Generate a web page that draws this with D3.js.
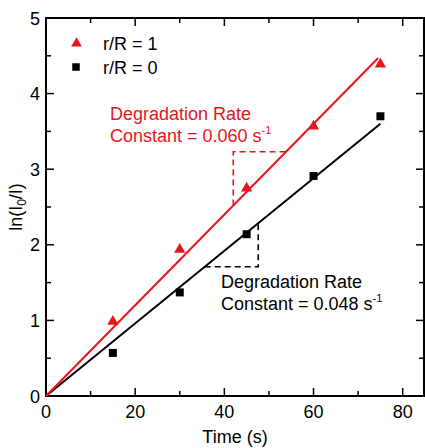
<!DOCTYPE html>
<html><head><meta charset="utf-8">
<script src="https://cdn.jsdelivr.net/npm/d3@7"></script>
<style>
body{margin:0;background:#fff;}
text{font-family:"Liberation Sans",Arial,sans-serif;}
</style></head>
<body><svg id="c" width="425" height="448"></svg>
<script>
const times = [15, 30, 45, 60, 75];
const series1Name = "r/R = 1";
const series1 = [1.00, 1.95, 2.76, 3.58, 4.40];
const series0Name = "r/R = 0";
const series0 = [0.57, 1.37, 2.14, 2.91, 3.70];
const fit1 = [[0, 0], [74.5, 4.47]];
const fit0 = [[0, 0], [75, 3.6]];
const xTicks = [0, 20, 40, 60, 80];
const xMinor = [10, 30, 50, 70];
const yTicks = [0, 1, 2, 3, 4, 5];
const yMinor = [0.5, 1.5, 2.5, 3.5, 4.5];
const tri1 = [[42, 2.52], [42, 3.23], [53.8, 3.23]];
const tri0 = [[35.6, 1.71], [47.6, 1.71], [47.6, 2.285]];
const red = "#e8141c", black = "#000";

const svg = d3.select("#c");
const x = d3.scaleLinear().domain([0, 85]).range([46, 425]);
const y = d3.scaleLinear().domain([0, 5]).range([396, 18]);
const L = 46, R = 424, T = 18, B = 396;

// frame
svg.append("rect").attr("x", L).attr("y", T).attr("width", R - L).attr("height", B - T)
  .attr("fill", "none").attr("stroke", "#000").attr("stroke-width", 2);

function ticks(vals, len) {
  svg.selectAll(null).data(vals).enter().append("line")
    .attr("x1", d => x(d)).attr("x2", d => x(d)).attr("y1", B).attr("y2", B - len)
    .attr("stroke", "#000").attr("stroke-width", 1.5);
  svg.selectAll(null).data(vals).enter().append("line")
    .attr("x1", d => x(d)).attr("x2", d => x(d)).attr("y1", T).attr("y2", T + len)
    .attr("stroke", "#000").attr("stroke-width", 1.5);
}
ticks(xTicks.filter(d => d > 0), 8);
ticks(xMinor, 5);
function yt(vals, len) {
  svg.selectAll(null).data(vals).enter().append("line")
    .attr("y1", d => y(d)).attr("y2", d => y(d)).attr("x1", L).attr("x2", L + len)
    .attr("stroke", "#000").attr("stroke-width", 1.5);
  svg.selectAll(null).data(vals).enter().append("line")
    .attr("y1", d => y(d)).attr("y2", d => y(d)).attr("x1", R).attr("x2", R - len)
    .attr("stroke", "#000").attr("stroke-width", 1.5);
}
yt(yTicks.filter(d => d > 0 && d < 5), 8);
yt(yMinor, 5);

// tick labels
svg.selectAll(null).data(xTicks).enter().append("text")
  .attr("x", d => x(d)).attr("y", 418).attr("text-anchor", "middle")
  .attr("font-size", 18).text(d => d);
svg.selectAll(null).data(yTicks).enter().append("text")
  .attr("x", 40).attr("y", d => y(d) + 6.5).attr("text-anchor", "end")
  .attr("font-size", 18).text(d => d);

// axis titles
svg.append("text").attr("x", 235).attr("y", 443).attr("text-anchor", "middle")
  .attr("font-size", 18).text("Time (s)");
const yl = svg.append("text").attr("transform", "translate(22,207) rotate(-90)")
  .attr("text-anchor", "middle").attr("font-size", 18);
yl.append("tspan").text("ln(I");
yl.append("tspan").attr("font-size", 12).attr("dy", 4).text("0");
yl.append("tspan").attr("dy", -4).text("/I)");

// fit lines
const line = d3.line().x(d => x(d[0])).y(d => y(d[1]));
svg.append("path").attr("d", line(fit0)).attr("fill", "none").attr("stroke", black).attr("stroke-width", 2);
svg.append("path").attr("d", line(fit1)).attr("fill", "none").attr("stroke", red).attr("stroke-width", 2);

// dashed triangles
svg.append("path").attr("d", line(tri1)).attr("fill", "none").attr("stroke", red)
  .attr("stroke-width", 1.6).attr("stroke-dasharray", "6,4");
svg.append("path").attr("d", line(tri0)).attr("fill", "none").attr("stroke", black)
  .attr("stroke-width", 1.6).attr("stroke-dasharray", "6,4");

// markers
const triSym = d3.symbol().type(d3.symbolTriangle).size(55);
const sqSym = d3.symbol().type(d3.symbolSquare).size(64);
svg.selectAll(null).data(times).enter().append("path")
  .attr("d", sqSym).attr("fill", black)
  .attr("transform", (d, i) => `translate(${x(d)},${y(series0[i])})`);
svg.selectAll(null).data(times).enter().append("path")
  .attr("d", triSym).attr("fill", red)
  .attr("transform", (d, i) => `translate(${x(d)},${y(series1[i]) + 1})`);

// legend
svg.append("path").attr("d", d3.symbol().type(d3.symbolTriangle).size(50)).attr("fill", red)
  .attr("transform", "translate(76.5,43.5)");
svg.append("text").attr("x", 103).attr("y", 49.5).attr("font-size", 18).text(series1Name);
svg.append("path").attr("d", d3.symbol().type(d3.symbolSquare).size(56)).attr("fill", black)
  .attr("transform", "translate(76,67)");
svg.append("text").attr("x", 103).attr("y", 73.5).attr("font-size", 18).text(series0Name);

// annotations
function annot(x0, y0, color, val) {
  svg.append("text").attr("x", x0).attr("y", y0).attr("font-size", 18).attr("fill", color).text("Degradation Rate");
  const t = svg.append("text").attr("x", x0).attr("y", y0 + 22).attr("font-size", 18).attr("fill", color);
  t.append("tspan").text("Constant = " + val + " s");
  t.append("tspan").attr("font-size", 11).attr("dy", -8).text("-1");
}
annot(110, 120, red, "0.060");
annot(221, 288, black, "0.048");
</script></body></html>
